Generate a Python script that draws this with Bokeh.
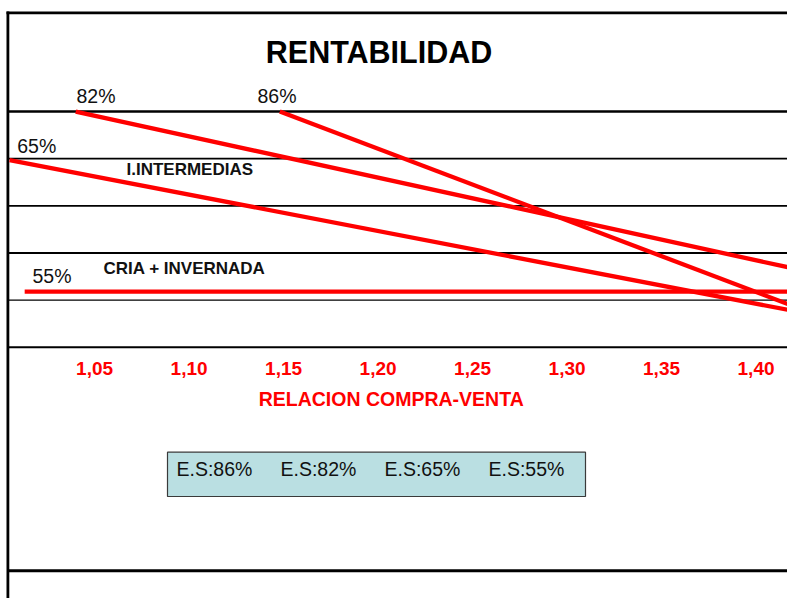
from bokeh.plotting import figure
from bokeh.models import Range1d
from bokeh.core.properties import value
from bokeh.embed import file_html
from bokeh.resources import INLINE

# ---------------- data ----------------
tick_values = [1.05, 1.10, 1.15, 1.20, 1.25, 1.30, 1.35, 1.40]
tick_labels = ["1,05", "1,10", "1,15", "1,20", "1,25", "1,30", "1,35", "1,40"]
grid_levels = [0, 1, 2, 3, 4, 5]

series_names = ["86%", "82%", "65%", "55%"]
es86_x = [1.148, 1.42]
es86_y = [5.0, 0.87]
es82_x = [1.04, 1.42]
es82_y = [5.0, 1.67]
es65_x = [1.005, 1.42]
es65_y = [3.97, 0.77]
es55_x = [1.013, 1.42]
es55_y = [1.18, 1.18]

legend_labels = ["E.S:86%", "E.S:82%", "E.S:65%", "E.S:55%"]
title_text = "RENTABILIDAD"
axis_title = "RELACION COMPRA-VENTA"
group_labels = ["I.INTERMEDIAS", "CRIA + INVERNADA"]

# ---------------- layout ----------------
W, H = 787, 598
PX_PER_X = 1889.8
X0_PX = 94.1          # pixel of x = 1.05
PY_PER_Y = 47.15
Y0_PY = 346.8         # pixel of y = 0


def X(px):
    return 1.05 + (px - X0_PX) / PX_PER_X


def Y(py):
    return (Y0_PY - py) / PY_PER_Y


def TY(py, fs):
    # baseline position for text of font size fs (px)
    return Y(py - 0.41 * fs)


p = figure(width=W, height=H, output_backend="svg", toolbar_location=None,
           x_range=Range1d(X(0), X(W)), y_range=Range1d(Y(H), Y(0)),
           min_border=0, min_border_left=0, min_border_right=0,
           min_border_top=0, min_border_bottom=0)
p.axis.visible = False
p.grid.visible = False
p.outline_line_color = None
p.background_fill_color = "white"
p.border_fill_color = "white"

FONT = value("Liberation Sans")
RED = "#FF0000"

# horizontal grid lines
grid_widths = [2, 1.2, 1.8, 1.8, 1.8, 2.6]
for lv, lw in zip(grid_levels, grid_widths):
    p.segment(x0=[X(8)], x1=[X(800)], y0=[lv], y1=[lv], line_color="black", line_width=lw)

# chart borders
p.segment(x0=[X(6)], x1=[X(800)], y0=[Y(12.3)], y1=[Y(12.3)], line_color="black", line_width=2.8)
p.segment(x0=[X(8)], x1=[X(800)], y0=[Y(570.3)], y1=[Y(570.3)], line_color="black", line_width=3)
p.segment(x0=[X(7.4)], x1=[X(7.4)], y0=[Y(11)], y1=[Y(610)], line_color="black", line_width=2.8)

# series lines
for xs, ys in [(es86_x, es86_y), (es82_x, es82_y), (es65_x, es65_y), (es55_x, es55_y)]:
    p.line(xs, ys, line_color=RED, line_width=4.3)

# series percent labels
pct_pos = [(X(257), TY(103, 19.5)), (X(76), TY(103.5, 19.5)),
           (X(16.7), TY(153, 19.5)), (X(32), TY(283, 19.5))]
p.text(x=[q[0] for q in pct_pos], y=[q[1] for q in pct_pos], text=series_names,
       text_font=FONT, text_font_size="19.5px", text_color="#111111",
       text_align="left", text_baseline="alphabetic")

# group labels
p.text(x=[X(126), X(103)], y=[TY(176, 17), TY(275.3, 17)], text=group_labels,
       text_font=FONT, text_font_size="17px", text_font_style="bold",
       text_color="#111111", text_align="left", text_baseline="alphabetic")

# title
p.text(x=[X(378.5)], y=[TY(64, 30.5)], text=[title_text], text_font=FONT,
       text_font_size="30.5px", text_font_style="bold", text_color="black",
       text_align="center", text_baseline="alphabetic")

# x tick labels (through the x scale)
p.text(x=tick_values, y=[TY(376, 19)] * len(tick_values), text=tick_labels,
       text_font=FONT, text_font_size="19px", text_font_style="bold",
       text_color=RED, text_align="center", text_baseline="alphabetic")

# axis title
p.text(x=[X(390.7)], y=[TY(406.7, 19.5)], text=[axis_title], text_font=FONT,
       text_font_size="19.5px", text_font_style="bold", text_color=RED,
       text_align="center", text_baseline="alphabetic")

# legend box
p.quad(left=[X(167)], right=[X(585)], top=[Y(451.7)], bottom=[Y(496)],
       fill_color="#BADFE2", line_color="#3a3a3a", line_width=1.2)
p.text(x=[X(176), X(280), X(384), X(488)], y=[TY(476, 19.5)] * 4, text=legend_labels,
       text_font=FONT, text_font_size="19.5px", text_color="#111111",
       text_align="left", text_baseline="alphabetic")

open("out.html", "w").write(file_html(p, INLINE))
